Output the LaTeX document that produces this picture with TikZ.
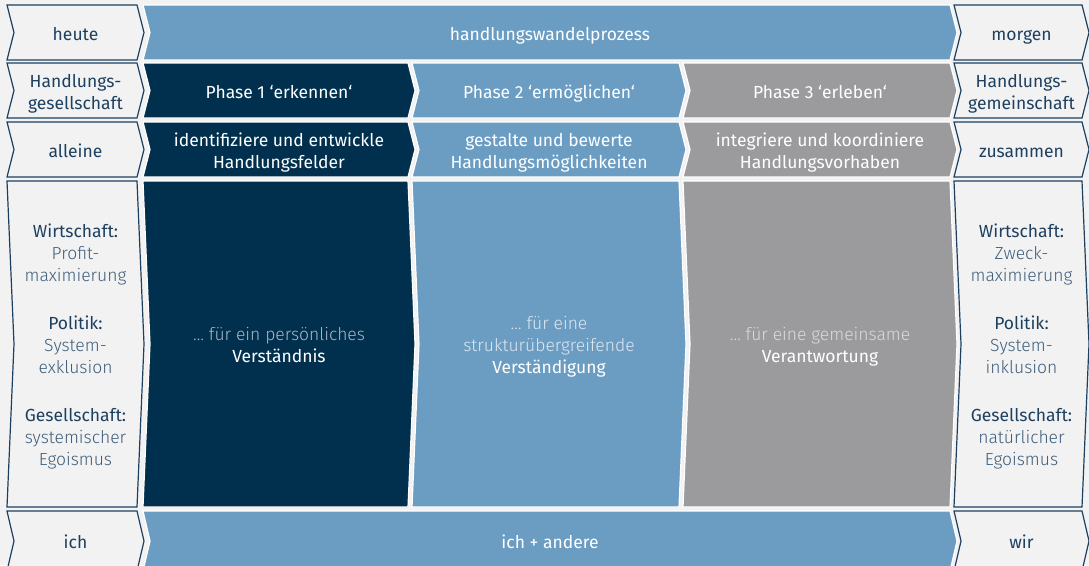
\documentclass[tikz,border=0pt]{standalone}
\usepackage{fontspec}
\setmainfont{Fira Sans}
\newfontfamily\lightfont{Fira Sans Light}
\usepackage{tikz}

\definecolor{bggray}{HTML}{F2F2F2}
\definecolor{navy}{HTML}{00304E}
\definecolor{midblue}{HTML}{6B9DC3}
\definecolor{stone}{HTML}{9B9B9D}
\definecolor{inkdark}{HTML}{1D4060}
\definecolor{inklight}{HTML}{3E5E7B}
\definecolor{palenavy}{HTML}{A9B7C6}
\definecolor{paleblue}{HTML}{DCE7F1}
\definecolor{palestone}{HTML}{DADADB}

% chevron: #1 look, #2 name, (#3,#4) top left, (#5,#6) bottom right, #7 text
\newcommand{\chevron}[7]{%
  \path[#1box] (#3,#4) -- (#5,#4) -- ({#5+7},{(#4+#6)/2}) -- (#5,#6)
    -- (#3,#6) -- ({#3+7},{(#4+#6)/2}) -- cycle;
  \node[#1text] (#2) at ({(#3+#5)/2+3.5},{(#4+#6)/2}) {\strut#7\strut};}

\tikzset{
  basetext/.style={align=center, inner sep=0pt, yshift=-3.5pt, font=\fontsize{17.5}{22}\selectfont},
  sidebox/.style={fill=bggray, draw=inkdark, line width=1.2pt, line join=miter},
  sidetext/.style={basetext, text=inkdark},
  navybox/.style={fill=navy, draw=white, line width=1.2pt},
  navytext/.style={basetext, text=white},
  bluebox/.style={fill=midblue, draw=white, line width=1.2pt},
  bluetext/.style={basetext, text=white},
  stonebox/.style={fill=stone, draw=white, line width=1.2pt},
  stonetext/.style={basetext, text=white},
}

\begin{document}
\begin{tikzpicture}[x=1pt, y=-1pt]
\fill[bggray] (0,0) rectangle (1089,565);
\useasboundingbox (0,0) rectangle (1089,565);

% row 1
\chevron{side}{heute}{7}{5}{137}{60}{heute}
\chevron{blue}{prozess}{143}{5}{950}{60}{handlungswandelprozess}
\chevron{side}{morgen}{954}{5}{1082}{60}{morgen}

% row 2
\chevron{side}{gesellschaft}{7}{63}{137}{118}{Handlungs-\\gesellschaft}
\chevron{navy}{phaseone}{143}{63}{408}{118}{Phase 1 ‘erkennen‘}
\chevron{blue}{phasetwo}{412}{63}{679}{118}{Phase 2 ‘ermöglichen‘}
\chevron{stone}{phasethree}{683}{63}{950}{118}{Phase 3 ‘erleben‘}
\chevron{side}{gemeinschaft}{954}{63}{1082}{118}{Handlungs-\\gemeinschaft}

% row 3
\chevron{side}{alleine}{7}{122}{137}{177}{alleine}
\chevron{navy}{felder}{143}{122}{408}{177}{identifiziere und entwickle\\Handlungsfelder}
\chevron{blue}{moeglich}{412}{122}{679}{177}{gestalte und bewerte\\Handlungsmöglichkeiten}
\chevron{stone}{vorhaben}{683}{122}{950}{177}{integriere und koordiniere\\Handlungsvorhaben}
\chevron{side}{zusammen}{954}{122}{1082}{177}{zusammen}

% row 4
\chevron{side}{heutelist}{7}{181}{137}{507}{Wirtschaft:\\{\lightfont\color{inklight}Profit-}\\{\lightfont\color{inklight}maximierung}\\[26pt]
  Politik:\\{\lightfont\color{inklight}System-}\\{\lightfont\color{inklight}exklusion}\\[26pt]
  Gesellschaft:\\{\lightfont\color{inklight}systemischer}\\{\lightfont\color{inklight}Egoismus}}
\chevron{navy}{verstaendnis}{143}{181}{408}{507}{{\lightfont\color{palenavy}… für ein persönliches}\\Verständnis}
\chevron{blue}{verstaendigung}{412}{181}{679}{507}{{\lightfont\color{paleblue}… für eine}\\{\lightfont\color{paleblue}strukturübergreifende}\\Verständigung}
\chevron{stone}{verantwortung}{683}{181}{950}{507}{{\lightfont\color{palestone}… für eine gemeinsame}\\Verantwortung}
\chevron{side}{morgenlist}{954}{181}{1082}{507}{Wirtschaft:\\{\lightfont\color{inklight}Zweck-}\\{\lightfont\color{inklight}maximierung}\\[26pt]
  Politik:\\{\lightfont\color{inklight}System-}\\{\lightfont\color{inklight}inklusion}\\[26pt]
  Gesellschaft:\\{\lightfont\color{inklight}natürlicher}\\{\lightfont\color{inklight}Egoismus}}

% row 5
\chevron{side}{ich}{7}{511}{137}{571}{ich}
\chevron{blue}{andere}{143}{511}{950}{571}{ich + andere}
\chevron{side}{wir}{954}{511}{1082}{571}{wir}
\end{tikzpicture}
\end{document}
